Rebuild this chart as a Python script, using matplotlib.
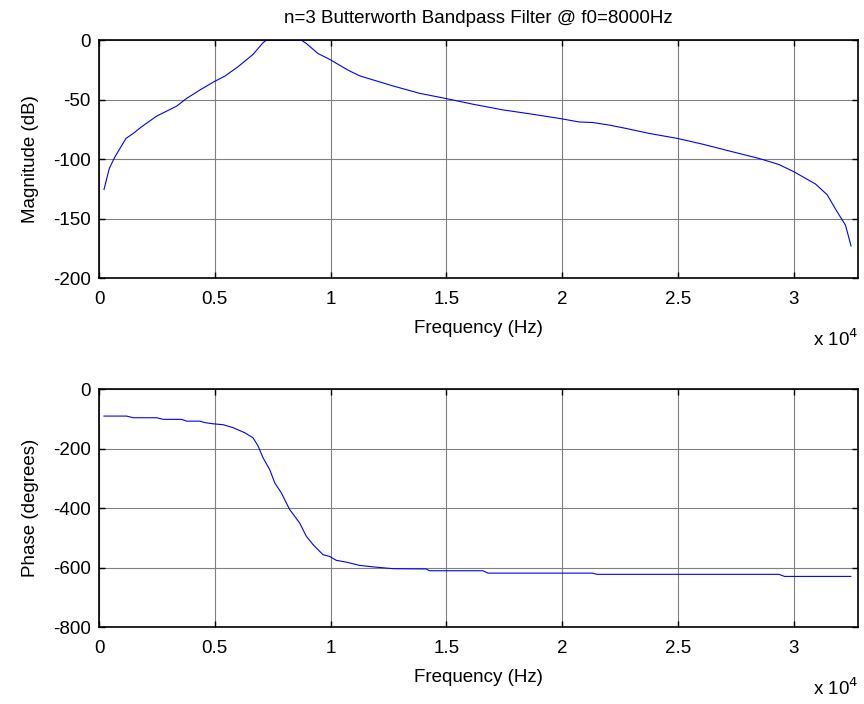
import numpy as np
import matplotlib.pyplot as plt

plt.rcParams['font.family'] = ['Liberation Sans', 'DejaVu Sans']
plt.rcParams['axes.unicode_minus'] = False

# magnitude response
freq_mag = [215, 445, 690, 1164, 1480, 1840, 2485, 3350, 3780, 4350, 4960, 5430,
            6000, 6650, 7080, 7230, 8735, 8950, 9450, 9960, 10750, 11250, 12690,
            13840, 14960, 16130, 17430, 18720, 19940, 20730, 21300, 22030, 22750,
            23750, 24970, 26050, 27340, 28490, 29350, 30000, 30940, 31440, 31870,
            32230, 32470]
mag_db = [-125.5, -107.8, -98, -82.6, -78.4, -72.8, -63.9, -55.5, -49, -42, -35,
          -30.3, -22.4, -12, -2.2, 0, 0, -2.8, -11.2, -16.2, -25.2, -30, -38.5,
          -44.7, -49, -53.8, -58.6, -62.3, -66, -68.8, -69.2, -71.4, -74.2, -78.4,
          -82.6, -87.4, -93.8, -99.4, -104.5, -110.6, -121, -130, -144.3, -155.5,
          -173]

# phase response
freq_ph = [215, 1190, 1480, 2490, 2770, 3560, 3780, 4350, 4570, 4930, 5360, 5790,
           6290, 6650, 6870, 7080, 7370, 7590, 7870, 8230, 8660, 8950, 9240, 9670,
           9960, 10245, 10680, 11250, 11970, 12690, 14120, 14270, 16570, 16800,
           21300, 21500, 29350, 29600, 32460]
phase_deg = [-90, -90, -95.6, -95.6, -101, -101, -107, -107, -112, -116, -119, -129,
             -146, -163, -191, -230, -270, -315, -348, -404, -449, -494, -522, -556,
             -562, -575, -581, -592, -598, -603, -604, -610, -610, -618, -618, -622,
             -622, -629, -629]

xticks = [0, 5000, 10000, 15000, 20000, 25000, 30000]
xtick_labels = ['0', '0.5', '1', '1.5', '2', '2.5', '3']
fs_half = 32768

fig = plt.figure(figsize=(8.64, 7.04), dpi=100)
ax1 = fig.add_axes([0.1146, 0.605, 0.8784, 0.338])
ax2 = fig.add_axes([0.1146, 0.109, 0.8784, 0.338])


def style(ax, yticks, ylabel):
    ax.set_xlim(0, fs_half)
    ax.set_xticks(xticks)
    ax.set_xticklabels(xtick_labels)
    ax.set_yticks(yticks)
    ax.set_ylim(yticks[0], yticks[-1])
    ax.grid(True, color='#808080', linewidth=0.8)
    ax.tick_params(axis='both', direction='in', length=4, width=1, top=True,
                   right=True, labelsize=13.5)
    ax.tick_params(axis='x', pad=9)
    ax.tick_params(axis='y', pad=6)
    for s in ax.spines.values():
        s.set_linewidth(1.2)
    ax.set_xlabel('Frequency (Hz)', fontsize=13.5, labelpad=9)
    ax.set_ylabel(ylabel, fontsize=13.5, labelpad=10)
    ax.text(1.0, -0.285, r'x 10$^4$', transform=ax.transAxes, ha='right',
            va='baseline', fontsize=13.5)


ax1.plot(freq_mag, mag_db, color='#0000ff', linewidth=0.8)
style(ax1, [-200, -150, -100, -50, 0], 'Magnitude (dB)')
ax1.set_title('n=3 Butterworth Bandpass Filter @ f0=8000Hz', fontsize=13.5, pad=12)

ax2.plot(freq_ph, phase_deg, color='#0000ff', linewidth=0.8)
style(ax2, [-800, -600, -400, -200, 0], 'Phase (degrees)')

fig.savefig('out.png', dpi=100)
